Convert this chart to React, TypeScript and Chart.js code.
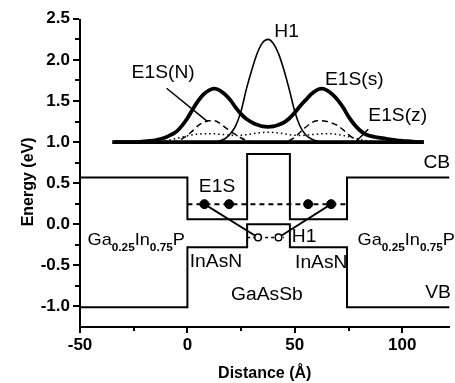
import React, { useEffect, useRef } from "react";
import { Chart, registerables } from "chart.js";

Chart.register(...registerables);

const FONT = "'Liberation Sans', Arial, Helvetica, sans-serif";

// axis ticks
const X_MAJOR = [-50, 0, 50, 100];
const X_MINOR = [-25, 25, 75];
const Y_MAJOR = [-1.0, -0.5, 0.0, 0.5, 1.0, 1.5, 2.0, 2.5];
const Y_MINOR = [-0.75, -0.25, 0.25, 0.75, 1.25, 1.75, 2.25];

// band edges (Å, eV)
const BAND_X = [-50, 0, 0, 27.8, 27.8, 47.7, 47.7, 74.3, 74.3, 122];
const CB_Y = [0.57, 0.57, 0.06, 0.06, 0.855, 0.855, 0.06, 0.06, 0.57, 0.57];
const VB_Y = [-1.01, -1.01, -0.28, -0.28, 0.0, 0.0, -0.28, -0.28, -1.01, -1.01];

// confined levels
const E1S_LEVEL_X = [0, 74.3];
const E1S_LEVEL_Y = [0.245, 0.245];
const H1_LEVEL_X = [27.8, 45];
const H1_LEVEL_Y = [-0.16, -0.16];
const E1S_DOTS_X = [7.9, 19.4, 56.2, 66.9];
const E1S_DOTS_Y = [0.245, 0.245, 0.245, 0.245];
const H1_DOTS_X = [32.9, 42.4];
const H1_DOTS_Y = [-0.16, -0.16];
const TRANS1_X = [7.9, 32.9];
const TRANS1_Y = [0.245, -0.16];
const TRANS2_X = [66.9, 42.4];
const TRANS2_Y = [0.245, -0.16];

// wavefunctions (offset to 1.0 eV)
const BASE_X = [-34, 110];
const BASE_Y = [1.0, 1.0];
const E1S_S_X = [
  -35, -32.5, -30, -27.5, -25, -22.5, -20, -17.5, -15, -12.5, -10, -7.5, -5, -2.5,
  0, 2.5, 5, 7.5, 10, 12.5, 15, 17.5, 20, 22.5, 25, 27.5, 30, 32.5, 35, 37.5, 40,
  42.5, 45, 47.5, 50, 52.5, 55, 57.5, 60, 62.5, 65, 67.5, 70, 72.5, 75, 77.5, 80,
  82.5, 85, 87.5, 90, 92.5, 95, 97.5, 100, 102.5, 105, 107.5, 110,
];
const E1S_S_Y = [
  1.0, 1.0, 1.0, 1.0, 1.0, 1.003, 1.007, 1.013, 1.022, 1.037, 1.06, 1.09, 1.13, 1.2,
  1.29, 1.4, 1.5, 1.58, 1.63, 1.65, 1.63, 1.58, 1.51, 1.42, 1.34, 1.28, 1.24, 1.21, 1.19, 1.185, 1.19,
  1.21, 1.24, 1.29, 1.36, 1.44, 1.51, 1.58, 1.63, 1.65, 1.63, 1.58, 1.51, 1.42, 1.31, 1.22, 1.15,
  1.1, 1.075, 1.06, 1.05, 1.04, 1.03, 1.02, 1.015, 1.01, 1.005, 1.0, 1.0,
];
const H1_WF_X = [12.5, 15, 17.5, 20, 22.5, 25, 27.5, 30, 32.5, 35, 37.5, 40, 42.5, 45, 47.5, 50, 52.5, 55, 57.5, 60, 62.5];
const H1_WF_Y = [1.0, 1.015, 1.04, 1.1, 1.2, 1.38, 1.65, 1.88, 2.08, 2.21, 2.25, 2.2, 2.07, 1.87, 1.63, 1.37, 1.19, 1.09, 1.04, 1.015, 1.0];
const E1S_N_X = [
  -7.5, -5, -2.5, 0, 2.5, 5, 7.5, 10, 12.5, 15, 17.5, 20, 22.5, 25, 27.5, 30, 32.5, 35, 37.5,
  40, 42.5, 45, 47.5, 50, 52.5, 55, 57.5, 60, 62.5, 65, 67.5, 70, 72.5, 75, 77.5, 80, 82.5,
];
const E1S_N_Y = [
  1.0, 1.01, 1.04, 1.08, 1.14, 1.2, 1.24, 1.26, 1.26, 1.23, 1.18, 1.13, 1.09, 1.05, 1.02, 1.005, 1.0, 1.0, 1.0,
  1.0, 1.0, 1.005, 1.02, 1.06, 1.12, 1.18, 1.23, 1.26, 1.26, 1.25, 1.23, 1.2, 1.15, 1.09, 1.04, 1.01, 1.0,
];
const E1S_Z_X = [-12.5, -7.5, -2.5, 2.5, 7.5, 12.5, 17.5, 22.5, 27.5, 32.5, 37.5, 42.5, 47.5, 52.5, 57.5, 62.5, 67.5, 72.5, 77.5, 82.5, 87.5];
const E1S_Z_Y = [1.0, 1.03, 1.06, 1.09, 1.1, 1.1, 1.09, 1.08, 1.09, 1.11, 1.12, 1.11, 1.09, 1.08, 1.09, 1.1, 1.1, 1.08, 1.05, 1.02, 1.0];

// label pointers
const PTR_N_X = [-9.7, 9.4];
const PTR_N_Y = [1.655, 1.248];
const PTR_Z_X = [84.2, 79.2];
const PTR_Z_Y = [1.156, 1.026];

// annotations (data coords, centred)
const LABEL_TEXT = ["H1", "E1S(N)", "E1S(s)", "E1S(z)", "CB", "E1S", "H1", "InAsN", "InAsN", "GaAsSb", "VB"];
const LABEL_X = [46.2, -11.3, 77.7, 97.9, 116.1, 13.8, 54.3, 13.3, 62.3, 37, 116.7];
const LABEL_Y = [2.34, 1.835, 1.76, 1.32, 0.75, 0.454, -0.15, -0.46, -0.475, -0.86, -0.84];
// barrier material label (left aligned, baseline)
const BARRIER_PARTS = ["Ga", "0.25", "In", "0.75", "P"];
const BARRIER_X = [-46.5, 79.2];
const BARRIER_Y = [-0.252, -0.252];

const pts = (xs: number[], ys: number[]) => xs.map((x, i) => ({ x, y: ys[i] }));

const line = (xs: number[], ys: number[], extra: any = {}) => ({
  data: pts(xs, ys),
  showLine: true,
  pointRadius: 0,
  borderColor: "#000",
  backgroundColor: "#000",
  borderWidth: 2,
  fill: false,
  ...extra,
});

const SX = 1.07; // horizontal stretch of annotation glyphs

const drawAxes = (chart: any) => {
  const { ctx, chartArea } = chart;
  const xs = chart.scales.x;
  const ys = chart.scales.y;
  ctx.save();
  ctx.fillStyle = "#000";
  const b = Math.round(chartArea.bottom);
  const l = Math.round(chartArea.left);
  const t = Math.round(chartArea.top);
  const r = Math.round(chartArea.right);
  ctx.fillRect(l - 1, t, 2, b - t + 1);
  ctx.fillRect(l - 1, b - 1, r - l + 1, 2);
  X_MAJOR.forEach((v) => {
    const p = Math.round(xs.getPixelForValue(v));
    ctx.fillRect(p - 1, b, 2, 6);
  });
  X_MINOR.forEach((v) => {
    const p = Math.round(xs.getPixelForValue(v));
    ctx.fillRect(p - 1, b, 2, 4);
  });
  Y_MAJOR.forEach((v) => {
    const p = Math.round(ys.getPixelForValue(v));
    ctx.fillRect(l - 7, p - 1, 6, 2);
  });
  Y_MINOR.forEach((v) => {
    const p = Math.round(ys.getPixelForValue(v));
    ctx.fillRect(l - 5, p - 1, 4, 2);
  });
  ctx.restore();
};

const overlay = {
  id: "overlay",
  afterDraw(chart: any) {
    const { ctx, chartArea } = chart;
    const xs = chart.scales.x;
    const ys = chart.scales.y;
    drawAxes(chart);
    ctx.save();
    ctx.fillStyle = "#000";
    const stretched = (txt: string, px: number, py: number) => {
      ctx.save();
      ctx.translate(px, py);
      ctx.scale(SX, 1);
      ctx.fillText(txt, 0, 0);
      ctx.restore();
    };

    // annotations
    ctx.font = `18px ${FONT}`;
    ctx.textAlign = "center";
    ctx.textBaseline = "middle";
    LABEL_TEXT.forEach((txt, i) => {
      stretched(txt, xs.getPixelForValue(LABEL_X[i]), ys.getPixelForValue(LABEL_Y[i]));
    });
    ctx.textAlign = "left";
    ctx.textBaseline = "alphabetic";
    BARRIER_X.forEach((bx, k) => {
      let px = xs.getPixelForValue(bx);
      const py = ys.getPixelForValue(BARRIER_Y[k]);
      BARRIER_PARTS.forEach((part, i) => {
        const sub = i % 2 === 1;
        ctx.font = sub ? `bold 11px ${FONT}` : `17px ${FONT}`;
        stretched(part, px, sub ? py + 6 : py);
        px += ctx.measureText(part).width * SX;
      });
    });

    // axis titles
    ctx.font = `bold 16px ${FONT}`;
    ctx.textAlign = "center";
    ctx.textBaseline = "middle";
    ctx.fillText("Distance (Å)", (chartArea.left + chartArea.right) / 2, chartArea.bottom + 46.5);
    ctx.translate(29, (chartArea.top + chartArea.bottom) / 2 + 9);
    ctx.rotate(-Math.PI / 2);
    ctx.fillText("Energy (eV)", 0, 0);
    ctx.restore();
  },
};

export default function App() {
  const ref = useRef<HTMLCanvasElement | null>(null);
  useEffect(() => {
    if (!ref.current) return;
    const datasets: any[] = [
      line(E1S_DOTS_X, E1S_DOTS_Y, { showLine: false, pointRadius: 4.5, pointBorderWidth: 1 }),
      line(H1_DOTS_X, H1_DOTS_Y, {
        showLine: false,
        pointRadius: 3.3,
        pointBackgroundColor: "#fff",
        pointBorderColor: "#000",
        pointBorderWidth: 1.5,
      }),
      line(TRANS1_X, TRANS1_Y, { borderWidth: 1.8 }),
      line(TRANS2_X, TRANS2_Y, { borderWidth: 1.8 }),
      line(E1S_LEVEL_X, E1S_LEVEL_Y, { borderDash: [5, 4], borderWidth: 2 }),
      line(H1_LEVEL_X, H1_LEVEL_Y, { borderDash: [3, 3], borderWidth: 1.5 }),
      line(BAND_X, CB_Y, { borderWidth: 2 }),
      line(BAND_X, VB_Y, { borderWidth: 2 }),
      line(PTR_N_X, PTR_N_Y, { borderWidth: 1.5 }),
      line(PTR_Z_X, PTR_Z_Y, { borderWidth: 1.5 }),
      line(H1_WF_X, H1_WF_Y, { borderWidth: 1.6, cubicInterpolationMode: "monotone" }),
      line(E1S_S_X, E1S_S_Y, { borderWidth: 3.8, cubicInterpolationMode: "monotone" }),
      line(BASE_X, BASE_Y, { borderWidth: 3.8 }),
      line(E1S_N_X, E1S_N_Y, { borderWidth: 1.5, borderDash: [6, 4], cubicInterpolationMode: "monotone" }),
      line(E1S_Z_X, E1S_Z_Y, { borderWidth: 1.5, borderDash: [1.5, 3], cubicInterpolationMode: "monotone" }),
    ];
    const tickFont = { family: FONT, size: 17, weight: "bold" as const };
    const chart = new Chart(ref.current, {
      type: "scatter",
      data: { datasets },
      options: {
        animation: false,
        responsive: false,
        devicePixelRatio: 1,
        layout: { padding: { top: 18.8, right: 0, left: 0, bottom: 0 } },
        plugins: { legend: { display: false }, tooltip: { enabled: false } },
        scales: {
          x: {
            type: "linear",
            min: -50,
            max: 122,
            afterBuildTicks: (s: any) => {
              s.ticks = X_MAJOR.map((v) => ({ value: v }));
            },
            afterFit: (s: any) => {
              s.height = 56;
            },
            ticks: { font: tickFont, color: "#000", padding: 0, callback: (v: any) => String(v) },
            grid: { display: false },
            border: { display: false },
          },
          y: {
            type: "linear",
            min: -1.25,
            max: 2.5,
            afterBuildTicks: (s: any) => {
              s.ticks = Y_MAJOR.map((v) => ({ value: v }));
            },
            afterFit: (s: any) => {
              s.width = 80;
            },
            ticks: { font: tickFont, color: "#000", padding: 2, callback: (v: any) => Number(v).toFixed(1) },
            grid: { display: false },
            border: { display: false },
          },
        },
      },
      plugins: [overlay],
    });
    return () => chart.destroy();
  }, []);
  return (
    <div style={{ position: "absolute", left: 0, top: 0, width: 455, height: 383, background: "#fff" }}>
      <canvas ref={ref} width={455} height={383} style={{ display: "block" }} />
    </div>
  );
}
